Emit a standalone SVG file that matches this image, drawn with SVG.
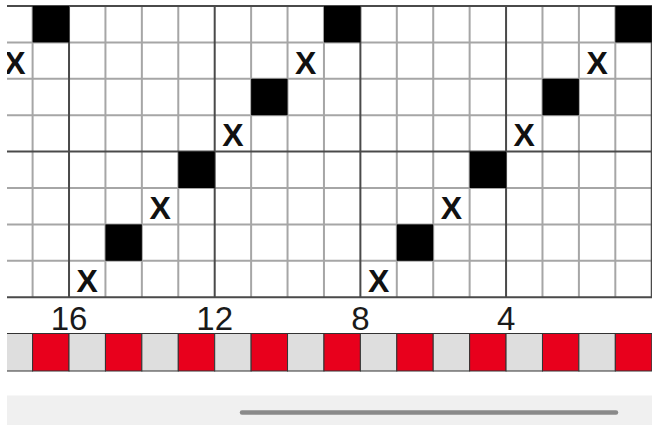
<svg xmlns="http://www.w3.org/2000/svg" width="654" height="425" viewBox="0 0 654 425">
<style>
.mn{stroke:#a6a6a6;stroke-width:2;fill:none}
.mj{stroke:#4a4a4a;stroke-width:2;fill:none}
.blk{fill:#000}
.x{font-family:"Liberation Sans",Arial,sans-serif;font-weight:bold;font-size:32px;fill:#111;text-anchor:middle}
.num{font-family:"Liberation Sans",Arial,sans-serif;font-size:33px;fill:#1a1a1a;text-anchor:middle}
.red{fill:#e8001c;stroke:#333;stroke-width:1}
.gry{fill:#dedede;stroke:#333;stroke-width:1}
</style>
<defs>
<clipPath id="clip"><rect x="7" y="0" width="645" height="425"/></clipPath>
</defs>
<rect width="654" height="425" fill="#fff"/>
<g clip-path="url(#clip)">
<g id="grid-lines">
<path class="mn" d="M32.6 6V297.2M105.44 6V297.2M141.86 6V297.2M178.28 6V297.2M251.12 6V297.2M287.54 6V297.2M323.96 6V297.2M396.8 6V297.2M433.22 6V297.2M469.64 6V297.2M542.48 6V297.2M578.9 6V297.2M615.32 6V297.2"/>
<path class="mn" d="M7 42.4H652M7 78.8H652M7 115.2H652M7 188H652M7 224.4H652M7 260.8H652"/>
<path class="mj" d="M69.02 6V297.2M214.7 6V297.2M360.38 6V297.2M506.06 6V297.2M651.74 6V297.2"/>
<path class="mj" d="M7 6H652M7 151.6H652M7 297.2H652"/>
</g>
<g id="black-cells">
<rect class="blk" x="32.6" y="6" width="36.42" height="36.4"/>
<rect class="blk" x="323.96" y="6" width="36.42" height="36.4"/>
<rect class="blk" x="615.32" y="6" width="36.42" height="36.4"/>
<rect class="blk" x="251.12" y="78.8" width="36.42" height="36.4"/>
<rect class="blk" x="542.48" y="78.8" width="36.42" height="36.4"/>
<rect class="blk" x="178.28" y="151.6" width="36.42" height="36.4"/>
<rect class="blk" x="469.64" y="151.6" width="36.42" height="36.4"/>
<rect class="blk" x="105.44" y="224.4" width="36.42" height="36.4"/>
<rect class="blk" x="396.8" y="224.4" width="36.42" height="36.4"/>
</g>
<g id="x-marks">
<text class="x" x="15" y="73.5">X</text>
<text class="x" x="305.75" y="73.5">X</text>
<text class="x" x="597.11" y="73.5">X</text>
<text class="x" x="232.91" y="146.3">X</text>
<text class="x" x="524.27" y="146.3">X</text>
<text class="x" x="160.07" y="219.1">X</text>
<text class="x" x="451.43" y="219.1">X</text>
<text class="x" x="87.23" y="291.9">X</text>
<text class="x" x="378.59" y="291.9">X</text>
</g>
<g id="numbers">
<text class="num" x="69.02" y="330">16</text>
<text class="num" x="214.7" y="330">12</text>
<text class="num" x="360.38" y="330">8</text>
<text class="num" x="506.06" y="330">4</text>
</g>
<g id="strip">
<rect class="gry" x="-3.82" y="333.5" width="36.42" height="37.5"/>
<rect class="red" x="32.6" y="333.5" width="36.42" height="37.5"/>
<rect class="gry" x="69.02" y="333.5" width="36.42" height="37.5"/>
<rect class="red" x="105.44" y="333.5" width="36.42" height="37.5"/>
<rect class="gry" x="141.86" y="333.5" width="36.42" height="37.5"/>
<rect class="red" x="178.28" y="333.5" width="36.42" height="37.5"/>
<rect class="gry" x="214.7" y="333.5" width="36.42" height="37.5"/>
<rect class="red" x="251.12" y="333.5" width="36.42" height="37.5"/>
<rect class="gry" x="287.54" y="333.5" width="36.42" height="37.5"/>
<rect class="red" x="323.96" y="333.5" width="36.42" height="37.5"/>
<rect class="gry" x="360.38" y="333.5" width="36.42" height="37.5"/>
<rect class="red" x="396.8" y="333.5" width="36.42" height="37.5"/>
<rect class="gry" x="433.22" y="333.5" width="36.42" height="37.5"/>
<rect class="red" x="469.64" y="333.5" width="36.42" height="37.5"/>
<rect class="gry" x="506.06" y="333.5" width="36.42" height="37.5"/>
<rect class="red" x="542.48" y="333.5" width="36.42" height="37.5"/>
<rect class="gry" x="578.9" y="333.5" width="36.42" height="37.5"/>
<rect class="red" x="615.32" y="333.5" width="36.42" height="37.5"/>
</g>
<g id="scrollbar">
<rect x="7" y="395.5" width="645" height="29.5" fill="#f0f0f0"/>
<line x1="242" y1="412.5" x2="616" y2="412.5" stroke="#8a8a8a" stroke-width="4.5" stroke-linecap="round"/>
</g>
</g>
</svg>
